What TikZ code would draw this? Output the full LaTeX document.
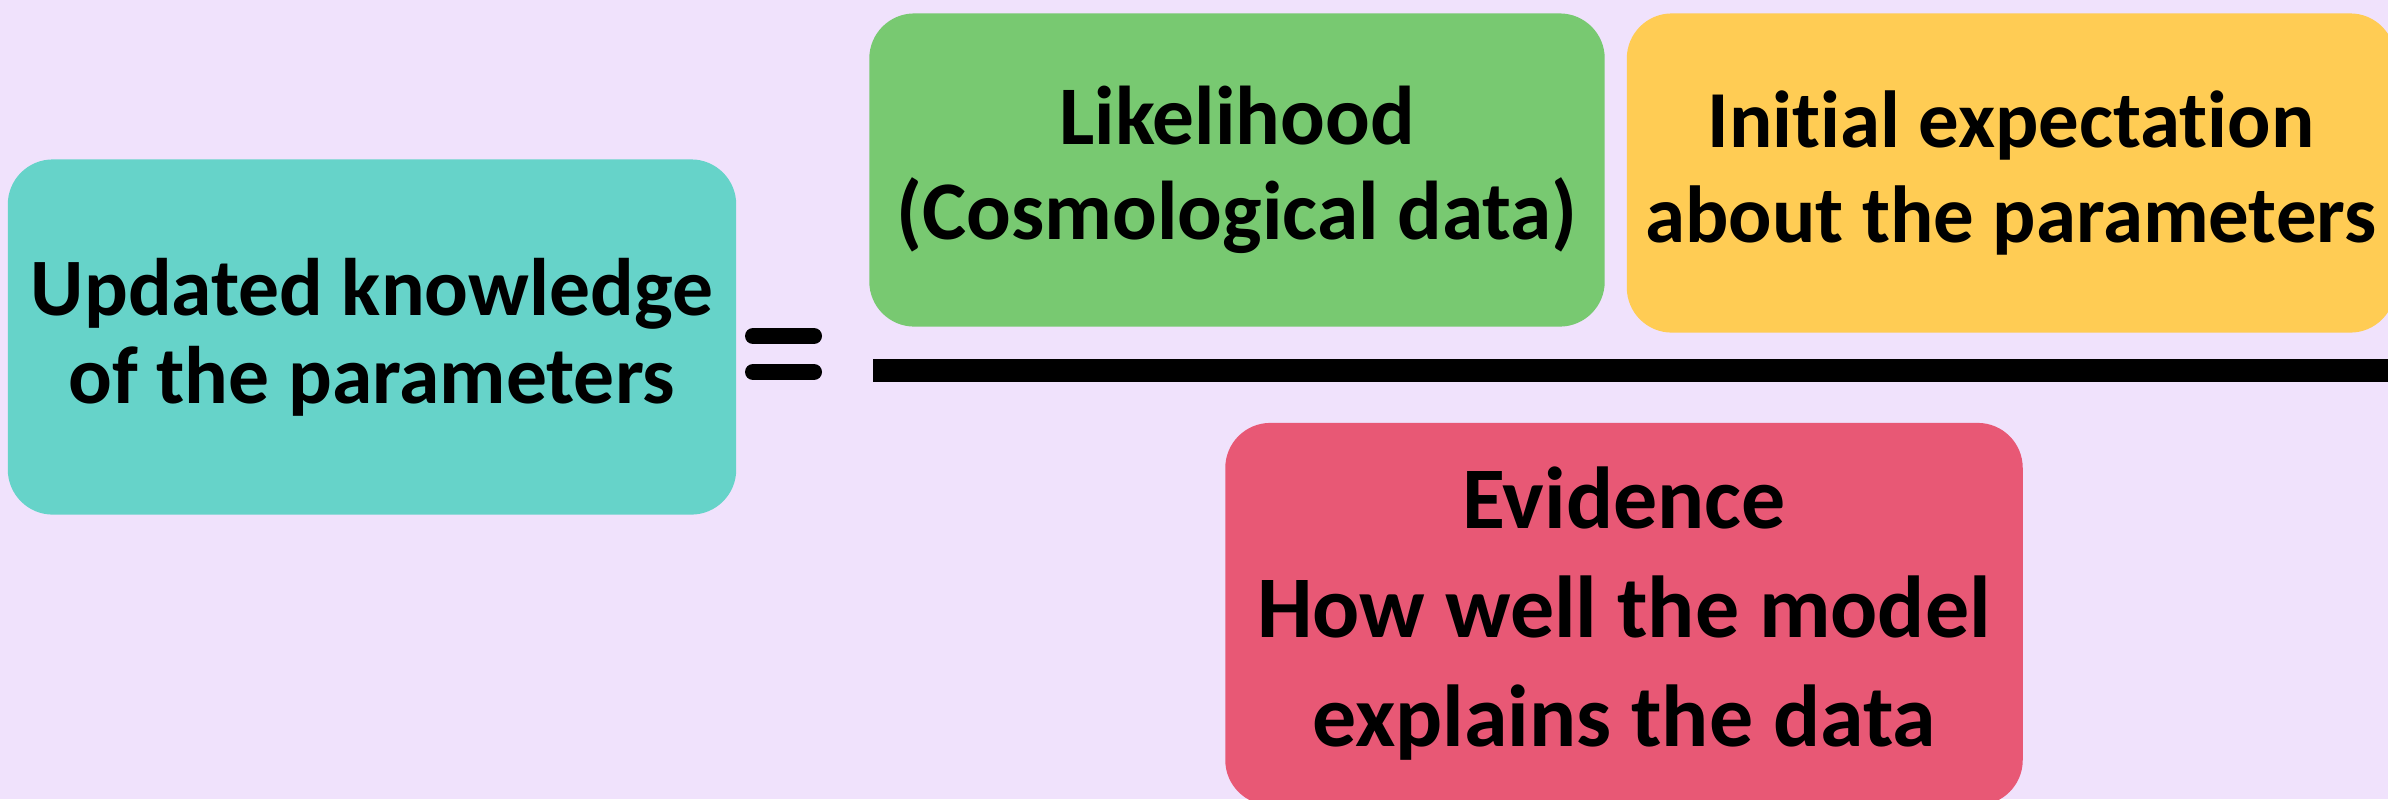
\documentclass[tikz,border=0pt]{standalone}
\usepackage{fontspec}
\setmainfont{Carlito}[Ligatures=NoCommon]

\definecolor{bgcol}{RGB}{240,226,252}
\definecolor{postcol}{RGB}{102,211,201}
\definecolor{likecol}{RGB}{120,201,113}
\definecolor{priorcol}{RGB}{255,204,84}
\definecolor{evidcol}{RGB}{232,88,117}

\begin{document}
\begin{tikzpicture}[x=0.01cm,y=-0.01cm]

      \fill[bgcol] (0,0) rectangle (2388,799);
      \useasboundingbox (0,0) rectangle (2388,799);

      \begin{scope}[every node/.style={rectangle,rounded corners=0.45cm,align=center,inner sep=0pt}]
        \node[fill=postcol,minimum width=7.28cm,minimum height=3.55cm,font=\bfseries\fontsize{23.2}{25}\selectfont] (post) at (372,337) {Updated knowledge\\of the parameters};
        \node[fill=likecol,minimum width=7.35cm,minimum height=3.13cm,font=\bfseries\fontsize{23.7}{27}\selectfont] (like) at (1237,170) {Likelihood\\(Cosmological data)};
        \node[fill=priorcol,minimum width=7.68cm,minimum height=3.19cm,font=\bfseries\fontsize{23}{27}\selectfont] (prior) at (2011,173) {Initial expectation\\about the parameters};
        \node[fill=evidcol,minimum width=7.97cm,minimum height=3.82cm,font=\bfseries\fontsize{25}{31}\selectfont] (evid) at (1624,614) {Evidence\\How well the model\\explains the data};
      \end{scope}

      \begin{scope}[line cap=round,line width=0.16cm]
        \coordinate (eqa) at (753,336);
        \coordinate (eqb) at (814,336);
        \coordinate (eqc) at (753,372);
        \coordinate (eqd) at (814,372);
        \draw (eqa) -- (eqb);
        \draw (eqc) -- (eqd);
      \end{scope}

      \coordinate (bara) at (873,370);
      \coordinate (barb) at (2400,370);
      \draw[line width=0.23cm] (bara) -- (barb);

    \end{tikzpicture}
\end{document}
